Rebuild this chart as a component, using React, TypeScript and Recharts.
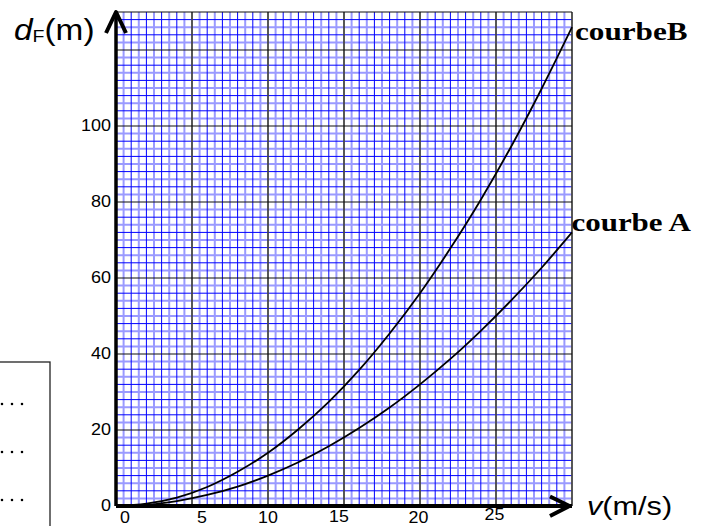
import React from 'react';
import { LineChart, Line, XAxis, YAxis, CartesianGrid, ReferenceDot } from 'recharts';

// speed v (m/s)
const speeds = [0, 2, 4, 6, 8, 10, 12, 14, 16, 18, 20, 22, 24, 26, 28, 30];
// braking distance d_F (m), courbe A
const distA = [0, 0.3, 1.3, 2.9, 5.1, 8, 11.5, 15.7, 20.5, 25.9, 32, 38.7, 46.1, 54.1, 62.7, 72];
// braking distance d_F (m), courbe B
const distB = [0, 0.6, 2.2, 5, 9, 14, 20.2, 27.4, 35.8, 45.4, 56, 67.8, 80.6, 94.6, 109.8, 126];

const xTicks = [0, 5, 10, 15, 20, 25];
const yTicks = [0, 20, 40, 60, 80, 100];
const X_MAX = 30;
const Y_MAX = 130;

const data = speeds.map((v, i) => ({ v, a: distA[i], b: distB[i] }));

// graph-paper grid values
const lightV: number[] = [];
const darkV: number[] = [];
const majorV: number[] = [];
for (let i = 1; i <= X_MAX * 2; i++) {
  const val = i / 2;
  if (i % 2 === 1) lightV.push(val);
  else if (val % 5 !== 0) darkV.push(val);
  else majorV.push(val);
}
const lightH: number[] = [];
const darkH: number[] = [];
const majorH: number[] = [];
for (let val = 2; val <= Y_MAX; val += 2) {
  if (val % 4 === 2 && val !== Y_MAX) lightH.push(val);
  else if (val % 20 !== 0 && val !== Y_MAX) darkH.push(val);
  else majorH.push(val);
}

const SANS = "'Liberation Sans', Arial, sans-serif";
const SERIF = "'Liberation Serif', 'Times New Roman', serif";

const xNudge: Record<number, [number, number]> = {
  0: [9, 0], 5: [10, 0], 10: [0, 0], 15: [-5, -1.5], 20: [-1.5, 0], 25: [-1.5, -3],
};

const XTick = (p: any) => {
  const v = p.payload.value;
  const [dx, dy] = xNudge[v] ?? [0, 0];
  return (
    <g transform={`translate(${p.x + dx},${p.y + 17 + dy}) scale(1.08,1)`}>
      <text x={0} y={0} textAnchor="middle" fontFamily={SANS} fontSize={16.5} fill="#000">{v}</text>
    </g>
  );
};

const YTick = (p: any) => {
  const v = p.payload.value;
  return (
    <g transform={`translate(${p.x},${p.y + 4.6}) scale(1.06,1)`}>
      <text x={0} y={0} textAnchor="end" fontFamily={SANS} fontSize={17} fill="#000">{v}</text>
    </g>
  );
};

const YArrow = (p: any) => {
  const { cx, cy } = p;
  return (
    <g>
      <polyline points={`${cx - 10},${cy + 21} ${cx},${cy} ${cx + 10},${cy + 21}`} fill="none" stroke="#000" strokeWidth={4} strokeLinejoin="round" />
      <g transform={`translate(${cx - 102},${cy + 27.5}) scale(1.15,1)`}>
        <text x={0} y={0} fontFamily={SANS} fontSize={29} fill="#000">
          <tspan fontStyle="italic">d</tspan>
          <tspan fontSize={17} dy={2.5}>F</tspan>
          <tspan dy={-2.5}>(m)</tspan>
        </text>
      </g>
    </g>
  );
};

const XArrow = (p: any) => {
  const { cx, cy } = p;
  return (
    <g>
      <polyline points={`${cx - 22},${cy - 9.5} ${cx - 2.5},${cy} ${cx - 22},${cy + 10}`} fill="none" stroke="#000" strokeWidth={4} strokeLinejoin="round" />
      <g transform={`translate(${cx + 15},${cy + 9}) scale(1.18,1)`}>
        <text x={0} y={0} fontFamily={SANS} fontSize={26} fill="#000">
          <tspan fontStyle="italic">v</tspan>
          <tspan>(m/s)</tspan>
        </text>
      </g>
    </g>
  );
};

const LabelB = (p: any) => {
  const { cx, cy } = p;
  return (
    <g transform={`translate(${cx + 3},${cy + 13}) scale(1.2,1)`}>
      <text x={0} y={0} fontFamily={SERIF} fontWeight="bold" fontSize={26} fill="#000">courbeB</text>
    </g>
  );
};

const LabelA = (p: any) => {
  const { cx, cy } = p;
  return (
    <g transform={`translate(${cx - 0.5},${cy - 1.5}) scale(1.19,1)`}>
      <text x={0} y={0} fontFamily={SERIF} fontWeight="bold" fontSize={26} fill="#000">courbe A</text>
    </g>
  );
};

export default function App() {
  return (
    <div style={{ position: 'absolute', left: 0, top: 0, width: 708, height: 526, background: '#fff', overflow: 'hidden' }}>
      <LineChart width={708} height={526} data={data} margin={{ top: 12, right: 136, bottom: 0, left: 0 }}>
        <CartesianGrid horizontalValues={lightH} verticalValues={lightV} stroke="#9a9aff" strokeWidth={2} />
        <CartesianGrid horizontalValues={darkH} verticalValues={darkV} stroke="#0000ff" strokeWidth={1} />
        <CartesianGrid horizontal={false} verticalValues={majorV} stroke="#454545" strokeWidth={1.8} />
        <CartesianGrid vertical={false} horizontalValues={majorH} stroke="#111" strokeWidth={1.2} />
        <XAxis
          dataKey="v"
          type="number"
          domain={[0, X_MAX]}
          ticks={xTicks}
          interval={0}
          height={20}
          tickSize={0}
          tickMargin={0}
          tickLine={false}
          axisLine={{ stroke: '#000', strokeWidth: 4 }}
          tick={<XTick />}
        />
        <YAxis
          type="number"
          domain={[0, Y_MAX]}
          ticks={yTicks}
          interval={0}
          width={116}
          tickSize={0}
          tickMargin={5}
          tickLine={false}
          axisLine={{ stroke: '#000', strokeWidth: 3.5 }}
          tick={<YTick />}
        />
        <Line type="monotone" dataKey="a" stroke="#000" strokeWidth={1.8} dot={false} isAnimationActive={false} />
        <Line type="monotone" dataKey="b" stroke="#000" strokeWidth={1.8} dot={false} isAnimationActive={false} />
        <ReferenceDot x={0} y={Y_MAX} ifOverflow="visible" shape={YArrow} />
        <ReferenceDot x={X_MAX} y={0} ifOverflow="visible" shape={XArrow} />
        <ReferenceDot x={speeds[speeds.length - 1]} y={distB[distB.length - 1]} ifOverflow="visible" shape={LabelB} />
        <ReferenceDot x={speeds[speeds.length - 1]} y={distA[distA.length - 1]} ifOverflow="visible" shape={LabelA} />
      </LineChart>
      <svg width={708} height={526} style={{ position: 'absolute', left: 0, top: 0, pointerEvents: 'none' }}>
        <rect x={-5} y={362} width={55} height={180} fill="none" stroke="#222" strokeWidth={1.3} />
        {[404, 452, 500].map((y) => (
          <line key={y} x1={2} y1={y} x2={22.5} y2={y} stroke="#000" strokeWidth={2.6} strokeLinecap="round" strokeDasharray="0 10" />
        ))}
      </svg>
    </div>
  );
}
